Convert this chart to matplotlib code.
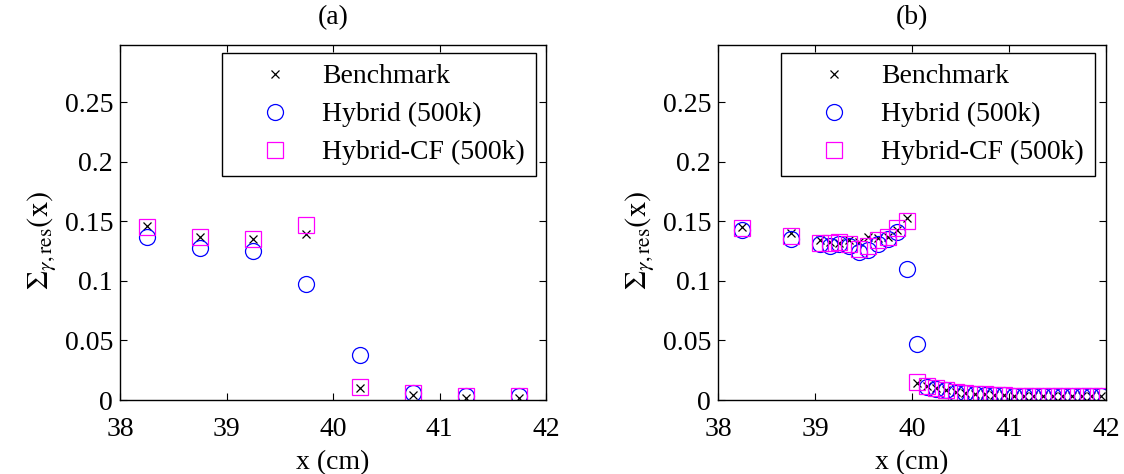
import matplotlib
matplotlib.use("Agg")
import matplotlib.pyplot as plt

plt.rcParams['font.family'] = ['Liberation Serif', 'DejaVu Serif']
plt.rcParams['mathtext.fontset'] = 'stix'

# Panel (a) data
xa = [38.25, 38.75, 39.25, 39.75, 40.25, 40.75, 41.25, 41.75]
bench_a = [0.146, 0.137, 0.135, 0.139, 0.010, 0.004, 0.002, 0.002]
hyb_a = [0.137, 0.128, 0.125, 0.097, 0.038, 0.006, 0.003, 0.003]
cf_a = [0.145, 0.137, 0.135, 0.147, 0.011, 0.006, 0.003, 0.003]

# Panel (b) data
xb = [38.25, 38.75,
      39.05, 39.15, 39.25, 39.35, 39.45, 39.55, 39.65, 39.75, 39.85, 39.95,
      40.05, 40.15, 40.25, 40.35, 40.45, 40.55, 40.65, 40.75, 40.85, 40.95,
      41.05, 41.15, 41.25, 41.35, 41.45, 41.55, 41.65, 41.75, 41.85, 41.95]
bench_b = [0.145, 0.140,
           0.134, 0.133, 0.132, 0.134, 0.133, 0.137, 0.136, 0.137, 0.143, 0.153,
           0.014, 0.012, 0.010, 0.008, 0.007, 0.006, 0.005, 0.005, 0.004, 0.004,
           0.003, 0.003, 0.003, 0.003, 0.003, 0.003, 0.003, 0.003, 0.003, 0.003]
hyb_b = [0.143, 0.135,
         0.131, 0.129, 0.131, 0.129, 0.124, 0.126, 0.131, 0.135, 0.141, 0.110,
         0.047, 0.011, 0.009, 0.008, 0.006, 0.006, 0.005, 0.004, 0.004, 0.004,
         0.003, 0.003, 0.003, 0.003, 0.003, 0.003, 0.003, 0.003, 0.003, 0.003]
cf_b = [0.144, 0.138,
        0.132, 0.132, 0.133, 0.131, 0.127, 0.129, 0.134, 0.137, 0.144, 0.150,
        0.015, 0.012, 0.010, 0.008, 0.007, 0.006, 0.005, 0.005, 0.004, 0.004,
        0.003, 0.003, 0.003, 0.003, 0.003, 0.003, 0.003, 0.003, 0.003, 0.003]

labels = ['Benchmark', 'Hybrid (500k)', 'Hybrid-CF (500k)']
xticks = [38, 39, 40, 41, 42]
yticks = [0, 0.05, 0.1, 0.15, 0.2, 0.25]
ytick_labels = ['0', '0.05', '0.1', '0.15', '0.2', '0.25']

W, H = 1124, 474
fig = plt.figure(figsize=(W / 100, H / 100), dpi=100)
ax_a = fig.add_axes([120 / W, 1 - 400 / H, 426 / W, 355 / H])
ax_b = fig.add_axes([718 / W, 1 - 400 / H, 388 / W, 355 / H])

FS = 20

def draw(ax, x, b, h, c, title, leg_anchor):
    ax.plot(x, b, linestyle='none', marker='x', color='black', markersize=6,
            markeredgewidth=0.9, label=labels[0])
    ax.plot(x, h, linestyle='none', marker='o', markerfacecolor='none',
            markeredgecolor=(0, 0, 1), markersize=11.5, markeredgewidth=0.9,
            label=labels[1])
    ax.plot(x, c, linestyle='none', marker='s', markerfacecolor='none',
            markeredgecolor=(1, 0, 1), markersize=11.5, markeredgewidth=0.9,
            label=labels[2])
    ax.set_xlim(38, 42)
    ax.set_ylim(0, 0.298)
    ax.set_xticks(xticks)
    ax.set_xticklabels([str(t) for t in xticks])
    ax.set_yticks(yticks)
    ax.set_yticklabels(ytick_labels)
    ax.tick_params(direction='in', top=True, right=True, labelsize=FS,
                   length=5, width=0.8)
    ax.tick_params(axis='x', pad=12)
    ax.tick_params(axis='y', pad=5)
    for s in ax.spines.values():
        s.set_linewidth(1.0)
    ax.set_xlabel('x (cm)', fontsize=FS, labelpad=6)
    ax.set_ylabel(r'$\Sigma_{\gamma,\mathrm{res}}(\mathrm{x})$', fontsize=22)
    ax.set_title(title, fontsize=FS, pad=15)
    leg = ax.legend(loc='upper right', bbox_to_anchor=leg_anchor,
                    fontsize=FS, frameon=True, fancybox=False,
                    edgecolor='black', framealpha=1, borderpad=0.4,
                    handlelength=3.0, handletextpad=0.2, labelspacing=0.45,
                    borderaxespad=0.0, markerscale=1.0)
    leg.get_frame().set_linewidth(1.0)

draw(ax_a, xa, bench_a, hyb_a, cf_a, '(a)', (0.976, 0.978))
draw(ax_b, xb, bench_b, hyb_b, cf_b, '(b)', (0.9716, 0.978))

# y labels: right edge about 62 px left of each axes
ax_a.yaxis.set_label_coords(-62 / 426, 0.45)
ax_b.yaxis.set_label_coords(-62 / 388, 0.45)

fig.savefig('out.png', dpi=100)
